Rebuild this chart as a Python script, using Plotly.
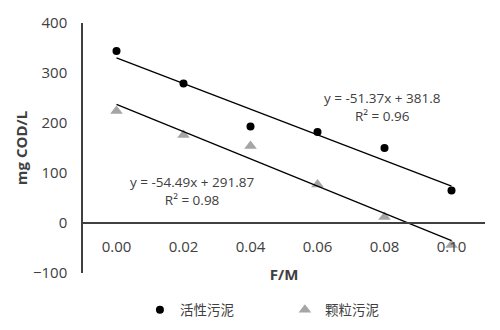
import plotly.graph_objects as go
import numpy as np

fm_labels = ["0.00", "0.02", "0.04", "0.06", "0.08", "0.10"]
fm_values = [0.00, 0.02, 0.04, 0.06, 0.08, 0.10]
activated = [344, 279, 193, 182, 150, 65]
granular = [224, 176, 154, 77, 12, -44]
# Excel trendline coefficients (x = point index 1..6)
act_slope, act_icpt = -51.37, 381.8
gran_slope, gran_icpt = -54.49, 291.87
act_r2, gran_r2 = 0.96, 0.98
y_ticks = [-100, 0, 100, 200, 300, 400]

idx = np.arange(1, len(fm_values) + 1)
ends = [0, len(fm_values) - 1]

font = "Open Sans, Noto Sans CJK SC, sans-serif"
fig = go.Figure()
fig.add_trace(go.Scatter(x=fm_values, y=activated, mode="markers", name="活性污泥",
                         marker=dict(symbol="circle", size=8, color="black")))
fig.add_trace(go.Scatter(x=fm_values, y=granular, mode="markers", name="颗粒污泥",
                         marker=dict(symbol="triangle-up", size=11, color="#a5a5a5")))
fig.add_trace(go.Scatter(x=[fm_values[i] for i in ends],
                         y=[act_slope * idx[i] + act_icpt for i in ends],
                         mode="lines", line=dict(color="black", width=1.3), showlegend=False))
fig.add_trace(go.Scatter(x=[fm_values[i] for i in ends],
                         y=[gran_slope * idx[i] + gran_icpt for i in ends],
                         mode="lines", line=dict(color="black", width=1.3), showlegend=False))

ymin, ymax = y_ticks[0], y_ticks[-1]
fig.update_layout(
    width=500, height=330,
    margin=dict(l=83, r=15, t=23, b=57, autoexpand=False),
    paper_bgcolor="white", plot_bgcolor="white",
    font=dict(family=font, color="#404040"),
    xaxis=dict(range=[-0.01, 0.11], tickvals=fm_values, ticktext=fm_labels, automargin=False,
               showgrid=False, zeroline=False, showline=True, linecolor="#404040", linewidth=1.5,
               anchor="free", position=(0 - ymin) / (ymax - ymin), ticklabelstandoff=10,
               ticks="", tickfont=dict(size=15, color="#404040"),
               title=dict(text="<b>F/M</b>", font=dict(size=15, color="#404040"), standoff=14)),
    yaxis=dict(range=[ymin, ymax], tickvals=y_ticks, showgrid=False, zeroline=False, automargin=False,
               showline=True, linecolor="#404040", linewidth=1.5, ticks="", ticklabelstandoff=11,
               tickfont=dict(size=15, color="#404040"),
               title=dict(text="<b>mg COD/L</b>", font=dict(size=15, color="#404040"), standoff=2)),
    legend=dict(orientation="h", x=0.1416, xanchor="left", y=-0.148, yanchor="middle",
                font=dict(size=13.5, color="#404040"), itemwidth=30, entrywidth=100,
                tracegroupgap=0),
    showlegend=True,
)
fig.add_annotation(x=0.0794, y=232, xref="x", yref="y", showarrow=False,
                   text=f"y = {act_slope}x + {act_icpt}<br>R² = {act_r2}",
                   font=dict(size=13.5, color="#404040"), align="center")
fig.add_annotation(x=0.0225, y=64, xref="x", yref="y", showarrow=False,
                   text=f"y = {gran_slope}x + {gran_icpt}<br>R² = {gran_r2}",
                   font=dict(size=13.5, color="#404040"), align="center")
fig.write_html("out.html")
